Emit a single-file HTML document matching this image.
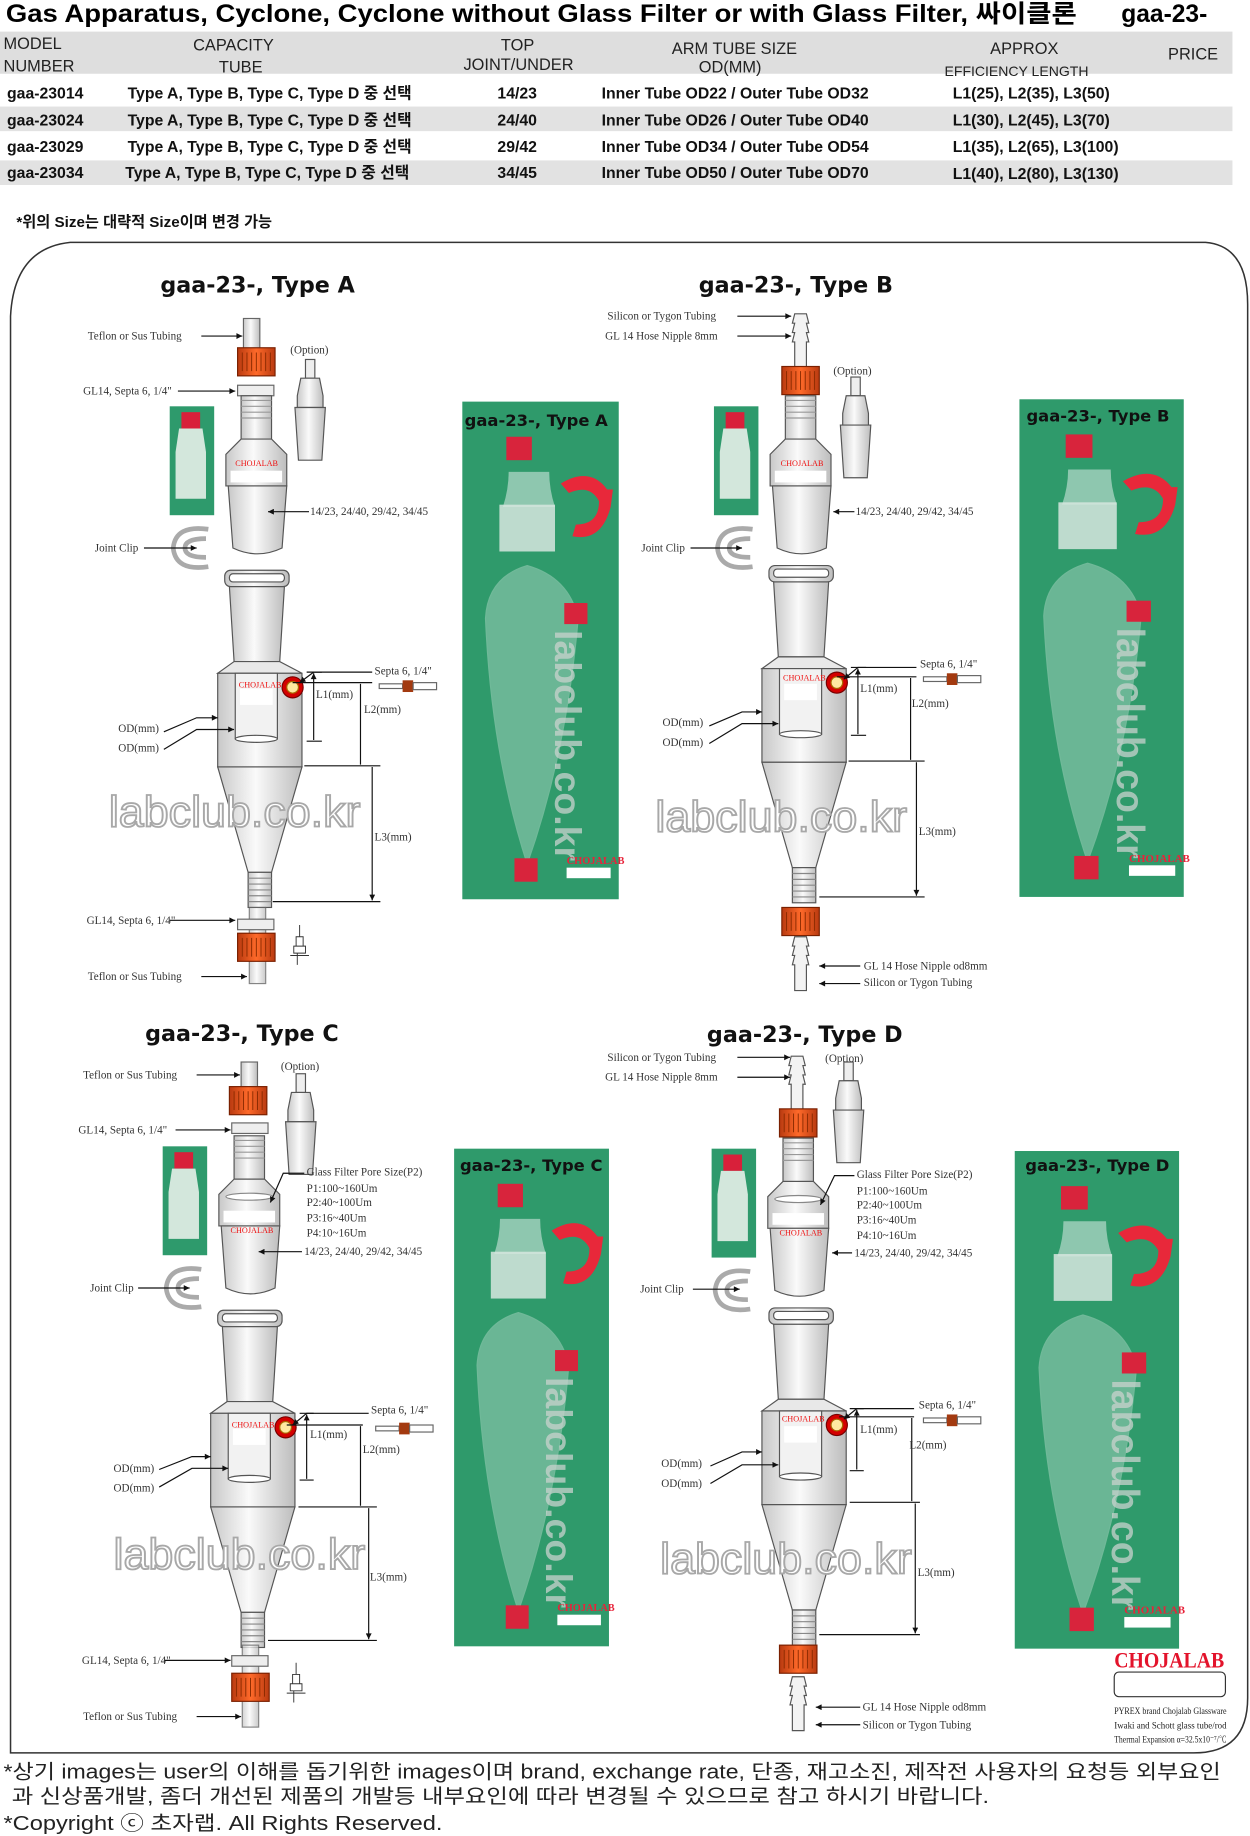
<!DOCTYPE html>
<html><head><meta charset="utf-8"><style>
html,body{margin:0;padding:0;background:#fff;}
svg{display:block;font-family:"Liberation Serif","Noto Serif CJK SC",serif;}
.s{font-family:"Liberation Sans","Noto Sans CJK KR",sans-serif;}
.lb{font-size:9.5px;fill:#333;}
.h{font-family:"DejaVu Sans","Noto Sans CJK KR",sans-serif;font-weight:bold;}
</style></head><body>
<svg width="1250" height="1836" viewBox="0 0 1068 1568" preserveAspectRatio="none" xmlns="http://www.w3.org/2000/svg">
<defs>
<marker id="ar" viewBox="0 0 10 10" refX="10" refY="5" markerWidth="7" markerHeight="5" orient="auto-start-reverse" markerUnits="userSpaceOnUse"><path d="M0,0L10,5L0,10z" fill="#111"/></marker>
<linearGradient id="gl" x1="0" x2="1" y1="0" y2="0"><stop offset="0" stop-color="#c8c8c8"/><stop offset=".45" stop-color="#fafafa"/><stop offset="1" stop-color="#bdbdbd"/></linearGradient>
<linearGradient id="or" x1="0" x2="1"><stop offset="0" stop-color="#b93a10"/><stop offset=".5" stop-color="#ff6a2a"/><stop offset="1" stop-color="#b93a10"/></linearGradient>
<g id="body" stroke="#555" stroke-width="1">
<rect x="192" y="487" width="55" height="14" rx="5" fill="url(#gl)"/>
<rect x="196" y="490" width="47" height="7" rx="3" fill="#fff"/>
<path d="M196,501 L243,501 L239,565 L200,565Z" fill="url(#gl)"/>
<path d="M200,565 L239,565 L258,575 L186,575Z" fill="#e8e8e8"/>
<rect x="186" y="575" width="72" height="80" fill="url(#gl)"/>
<rect x="201" y="575" width="36" height="56" fill="#f2f2f2"/>
<ellipse cx="219" cy="631" rx="18" ry="3" fill="#fff"/>
<path d="M186,655 L258,655 L232,745 L212,745Z" fill="url(#gl)"/>
<rect x="212" y="745" width="20" height="30" fill="url(#gl)"/>
<path d="M212,750h20M212,755h20M212,760h20M212,765h20M212,770h20" stroke="#888"/>
<circle cx="250" cy="587" r="9" fill="#d40000" stroke="#700"/>
<circle cx="250" cy="587" r="5" fill="#ffe9a0" stroke="#a60"/>
<rect x="205" y="588" width="28" height="14" fill="#fff" stroke="none"/>
</g>
<g id="ctop" stroke="#555" stroke-width="1">
<rect x="206" y="338" width="26" height="37" fill="url(#gl)"/>
<path d="M206,342h26M206,347h26M206,352h26M206,357h26" stroke="#999"/>
<path d="M206,375 L193,388 L193,415 L245,415 L245,388 L232,375Z" fill="url(#gl)"/>
<path d="M195,415 L245,415 L241,468 Q220,478 199,468Z" fill="url(#gl)"/>
<rect x="197" y="402" width="44" height="10" fill="#fff" stroke="none"/>
</g>
<g id="clip" fill="none" stroke="#aaa" stroke-width="4">
<path d="M178,452 Q150,448 148,468 Q150,488 178,484"/>
<path d="M176,460 Q158,460 158,468 Q158,476 176,476"/>
</g>
<g id="inset"><rect x="145" y="347" width="38" height="93" fill="#2e9a6c"/><rect x="155" y="352" width="16" height="14" fill="#d8203a"/><path d="M153,366 h20 l3,20 v40 h-26 v-40z" fill="#e6efe9" opacity=".9"/></g>
<g id="photo">
<rect x="0" y="0" width="135" height="425" fill="#2f9a6b"/>
<path d="M40,60 Q40,75 35,90 L80,90 Q75,75 75,60Z" fill="#cfe6dc" opacity=".6"/>
<rect x="38" y="30" width="22" height="20" fill="#d8243c"/>
<rect x="32" y="88" width="48" height="40" fill="#d7e6df" opacity=".85"/>
<path d="M20,185 Q22,150 56,140 Q92,150 100,185 Q90,300 56,395 Q25,300 20,185Z" fill="#d8ece3" opacity=".35" stroke="#e8f4ee" stroke-width="1"/>
<rect x="88" y="172" width="20" height="18" fill="#d8243c"/>
<rect x="45" y="390" width="20" height="20" fill="#d8243c"/>
<path d="M85,70 Q110,55 125,75 L130,75 L128,90 Q120,120 95,115 L98,105 Q118,105 118,85 Q110,70 92,78Z" fill="#e8283a"/>
<text transform="translate(80,195) rotate(90)" class="s" font-size="32" font-weight="bold" fill="#c9d3ce" opacity=".75">labclub.co.kr</text>
<text x="90" y="395" font-size="9" fill="#e8233a" font-weight="bold">CHOJALAB</text>
<rect x="90" y="398" width="38" height="9" fill="#fff"/>
</g>
<g id="septa"><rect x="-26" y="-2" width="20" height="4" fill="#fff" stroke="#666"/><rect x="-6" y="-5" width="9" height="10" fill="#a33a10"/><rect x="3" y="-3" width="20" height="6" fill="#fff" stroke="#666"/></g>
<g id="opt" stroke="#555"><rect x="261" y="307" width="8" height="16" fill="#eee"/><path d="M257,323h16l3,15v10h-22v-10z" fill="url(#gl)"/><path d="M252,348h26l-3,45h-20z" fill="url(#gl)"/></g>
<g id="nip" stroke="#555" fill="#f3f3f3"><path d="M-5,0h10l2,8h-2l2,8h-2l2,8h-2v22h-10v-22h-2l2,-8h-2l2,-8h-2z"/></g>
<g id="cap"><rect x="0" y="0" width="32" height="24" fill="url(#or)" stroke="#7a2000"/><path d="M4,4v16M8,4v16M12,4v16M16,4v16M20,4v16M24,4v16M28,4v16" stroke="#8a2a00" stroke-width=".8"/></g>
<g id="mini" stroke="#333" fill="none" stroke-width=".8"><path d="M0,0v10M-3,10h6v8h-6zM-5,18h10v6h-10zM-2,24v10M-8,26h16"/></g>
</defs>

<text x="5" y="19" class="s" font-size="21" font-weight="bold" textLength="915" lengthAdjust="spacingAndGlyphs">Gas Apparatus, Cyclone, Cyclone without Glass Filter or with Glass Filter, 싸이클론</text>
<text x="958" y="19" class="s" font-size="21" font-weight="bold">gaa-23-</text>
<rect x="0" y="27" width="1053" height="36" fill="#dedede"/>
<g class="s" font-size="14" fill="#222">
<text x="3" y="42">MODEL</text><text x="3" y="61">NUMBER</text>
<text x="165" y="43">CAPACITY</text><text x="187" y="62">TUBE</text>
<text x="428" y="43">TOP</text><text x="396" y="60">JOINT/UNDER</text>
<text x="574" y="46">ARM TUBE SIZE</text><text x="597" y="62">OD(MM)</text>
<text x="846" y="46">APPROX</text><text x="807" y="65" font-size="12">EFFICIENCY LENGTH</text>
<text x="998" y="51">PRICE</text>
</g>
<rect x="0" y="91" width="1053" height="21" fill="#e2e2e2"/>
<rect x="0" y="137" width="1053" height="21" fill="#e2e2e2"/>
<g class="s" font-size="13.5" font-weight="bold" fill="#111">
<text x="6" y="84">gaa-23014</text><text x="109" y="84">Type A, Type B, Type C, Type D 중 선택</text><text x="425" y="84">14/23</text><text x="514" y="84">Inner Tube OD22 / Outer Tube OD32</text><text x="814" y="84">L1(25), L2(35), L3(50)</text>
<text x="6" y="107">gaa-23024</text><text x="109" y="107">Type A, Type B, Type C, Type D 중 선택</text><text x="425" y="107">24/40</text><text x="514" y="107">Inner Tube OD26 / Outer Tube OD40</text><text x="814" y="107">L1(30), L2(45), L3(70)</text>
<text x="6" y="130">gaa-23029</text><text x="109" y="130">Type A, Type B, Type C, Type D 중 선택</text><text x="425" y="130">29/42</text><text x="514" y="130">Inner Tube OD34 / Outer Tube OD54</text><text x="814" y="130">L1(35), L2(65), L3(100)</text>
<text x="6" y="152">gaa-23034</text><text x="107" y="152">Type A, Type B, Type C, Type D 중 선택</text><text x="425" y="152">34/45</text><text x="514" y="152">Inner Tube OD50 / Outer Tube OD70</text><text x="814" y="153">L1(40), L2(80), L3(130)</text>
<text x="14" y="194" font-size="13">*위의 Size는 대략적 Size이며 변경 가능</text>
</g>
<path d="M60,207 H1030 Q1066,210 1066,260 V1450 Q1066,1497 1020,1497 H9 V270 Q12,212 60,207Z" fill="none" stroke="#333" stroke-width="1.3"/>

<g class="h" font-size="19" fill="#111">
<text x="137" y="250">gaa-23-, Type A</text>
<text x="597" y="250">gaa-23-, Type B</text>
<text x="124" y="889">gaa-23-, Type C</text>
<text x="604" y="890">gaa-23-, Type D</text>
</g>

<g>
<rect x="208" y="272" width="14" height="28" fill="url(#gl)" stroke="#666"/>
<use href="#cap" x="203" y="297"/>
<rect x="203" y="329" width="31" height="9" fill="#eee" stroke="#666"/>
<use href="#ctop"/><use href="#body"/><use href="#clip"/><use href="#inset"/><use href="#opt"/>
<rect x="213" y="775" width="14" height="65" fill="url(#gl)" stroke="#666" opacity=".8"/>
<rect x="203" y="785" width="31" height="9" fill="#eee" stroke="#666"/>
<use href="#cap" x="203" y="797"/>
<use href="#mini" x="256" y="790"/>
<text x="201" y="398" font-size="7" fill="#e11">CHOJALAB</text>
<text x="204" y="587" font-size="7" fill="#e11">CHOJALAB</text>
<use href="#septa" x="350" y="586"/>
</g>
<g>
<use href="#nip" x="684" y="268"/>
<use href="#cap" x="668" y="313"/>
<g transform="translate(465,0)"><use href="#ctop"/><use href="#clip"/><use href="#inset"/></g>
<g transform="translate(465,-4)"><use href="#body"/></g>
<use href="#opt" x="466" y="15"/>
<use href="#cap" x="668" y="775"/>
<use href="#nip" x="684" y="800"/>
<text x="667" y="398" font-size="7" fill="#e11">CHOJALAB</text>
<text x="669" y="581" font-size="7" fill="#e11">CHOJALAB</text>
<use href="#septa" x="815" y="580"/>
</g>
<g>
<rect x="206" y="907" width="14" height="22" fill="url(#gl)" stroke="#666"/>
<use href="#cap" x="196" y="928"/>
<rect x="198" y="959" width="31" height="9" fill="#eee" stroke="#666"/>
<g transform="translate(-6,632)"><use href="#ctop"/><use href="#body"/><use href="#clip"/><use href="#inset"/></g>
<use href="#opt" x="-8" y="610"/>
<ellipse cx="213" cy="1022" rx="20" ry="3" fill="#fff" stroke="#888"/>
<rect x="207" y="1405" width="14" height="70" fill="url(#gl)" stroke="#666" opacity=".8"/>
<rect x="198" y="1414" width="31" height="9" fill="#eee" stroke="#666"/>
<use href="#cap" x="198" y="1429"/>
<use href="#mini" x="253" y="1420"/>
<text x="197" y="1053" font-size="7" fill="#e11">CHOJALAB</text>
<text x="198" y="1219" font-size="7" fill="#e11">CHOJALAB</text>
<use href="#septa" x="347" y="1220"/>
</g>
<g>
<use href="#nip" x="681" y="902"/>
<use href="#cap" x="666" y="947"/>
<g transform="translate(463,634)"><use href="#ctop"/><use href="#clip"/><use href="#inset"/></g>
<g transform="translate(465,630)"><use href="#body"/></g>
<use href="#opt" x="460" y="600"/>
<ellipse cx="682" cy="1024" rx="20" ry="3" fill="#fff" stroke="#888"/>
<use href="#cap" x="666" y="1405"/>
<use href="#nip" x="682" y="1432"/>
<text x="666" y="1055" font-size="7" fill="#e11">CHOJALAB</text>
<text x="668" y="1214" font-size="7" fill="#e11">CHOJALAB</text>
<use href="#septa" x="815" y="1213"/>
</g>

<g class="s" font-size="37" fill="#fff" stroke="#a8a8a8" stroke-width="1.6">
<text x="93" y="706" textLength="215" lengthAdjust="spacingAndGlyphs">labclub.co.kr</text>
<text x="560" y="710" textLength="215" lengthAdjust="spacingAndGlyphs">labclub.co.kr</text>
<text x="97" y="1340" textLength="215" lengthAdjust="spacingAndGlyphs">labclub.co.kr</text>
<text x="564" y="1344" textLength="215" lengthAdjust="spacingAndGlyphs">labclub.co.kr</text>
</g>

<g transform="translate(395,343) scale(0.99,1)"><use href="#photo"/></g>
<g transform="translate(871,341) scale(1.04,1)"><use href="#photo"/></g>
<g transform="translate(388,981) scale(0.98,1)"><use href="#photo"/></g>
<g transform="translate(867,983) scale(1.04,1)"><use href="#photo"/></g>
<g class="h" font-size="14" fill="#111">
<text x="397" y="364">gaa-23-, Type A</text>
<text x="877" y="360">gaa-23-, Type B</text>
<text x="393" y="1000">gaa-23-, Type C</text>
<text x="876" y="1000">gaa-23-, Type D</text>
</g>

<g stroke="#111" stroke-width="1" fill="none">
<!-- A arrows -->
<g marker-end="url(#ar)">
<path d="M172,287H207"/><path d="M152,334H201"/><path d="M264,437H229"/><path d="M123,468H168"/><path d="M145,786H201"/><path d="M172,834H211"/>
<path d="M140,625L168,613H186"/><path d="M140,640L168,623H200"/><path d="M318,574H268L256,583"/>
</g>
<path d="M250,583H318M260,654H325M233,770H325M262,574H275M262,633H275"/>
<path d="M268,575V632M308,584V653M318,655V769" marker-start="url(#ar)" marker-end="url(#ar)"/>
<!-- B -->
<g marker-end="url(#ar)">
<path d="M630,270H676"/><path d="M630,287H676"/><path d="M730,437H712"/><path d="M590,468H634"/><path d="M735,825H700"/><path d="M735,840H700"/>
<path d="M606,620L634,608H651"/><path d="M606,635L634,618H665"/><path d="M783,570H733L721,580"/>
</g>
<path d="M715,578H783M725,650H790M700,766H790M727,570H740M727,628H740"/>
<path d="M733,571V627M778,579V649M783,651V765" marker-start="url(#ar)" marker-end="url(#ar)"/>
<!-- C -->
<g marker-end="url(#ar)">
<path d="M168,918H205"/><path d="M150,965H197"/><path d="M258,1069H221"/><path d="M260,1002H242L231,1027"/><path d="M118,1100H162"/><path d="M140,1418H197"/><path d="M168,1466H206"/>
<path d="M136,1255L164,1244H180"/><path d="M136,1270L164,1254H195"/><path d="M315,1207H262L250,1217"/>
</g>
<path d="M245,1217H310M255,1287H322M229,1401H322M256,1207H268M256,1264H268"/>
<path d="M262,1208V1263M308,1218V1286M315,1288V1400" marker-start="url(#ar)" marker-end="url(#ar)"/>
<!-- D -->
<g marker-end="url(#ar)">
<path d="M630,903H675"/><path d="M630,920H675"/><path d="M728,1070H711"/><path d="M730,1004H713L701,1029"/><path d="M592,1101H632"/><path d="M735,1458H697"/><path d="M735,1473H697"/>
<path d="M607,1252L634,1240H651"/><path d="M607,1267L634,1251H665"/><path d="M781,1203H732L721,1212"/>
</g>
<path d="M717,1210H781M726,1283H786M700,1396H786M726,1203H738M726,1256H738"/>
<path d="M732,1204V1255M779,1211V1282M782,1284V1395" marker-start="url(#ar)" marker-end="url(#ar)"/>
</g>
<g class="lb">
<text x="75" y="290">Teflon or Sus Tubing</text>
<text x="248" y="302">(Option)</text>
<text x="71" y="337">GL14, Septa 6, 1/4"</text>
<text x="265" y="440">14/23, 24/40, 29/42, 34/45</text>
<text x="81" y="471">Joint Clip</text>
<text x="320" y="576">Septa 6, 1/4"</text>
<text x="270" y="596">L1(mm)</text>
<text x="311" y="609">L2(mm)</text>
<text x="101" y="625">OD(mm)</text>
<text x="101" y="642">OD(mm)</text>
<text x="320" y="718">L3(mm)</text>
<text x="74" y="789">GL14, Septa 6, 1/4"</text>
<text x="75" y="837">Teflon or Sus Tubing</text>

<text x="519" y="273">Silicon or Tygon Tubing</text>
<text x="517" y="290">GL 14 Hose Nipple 8mm</text>
<text x="712" y="320">(Option)</text>
<text x="731" y="440">14/23, 24/40, 29/42, 34/45</text>
<text x="548" y="471">Joint Clip</text>
<text x="786" y="570">Septa 6, 1/4"</text>
<text x="735" y="591">L1(mm)</text>
<text x="779" y="604">L2(mm)</text>
<text x="566" y="620">OD(mm)</text>
<text x="566" y="637">OD(mm)</text>
<text x="785" y="713">L3(mm)</text>
<text x="738" y="828">GL 14 Hose Nipple od8mm</text>
<text x="738" y="842">Silicon or Tygon Tubing</text>

<text x="71" y="921">Teflon or Sus Tubing</text>
<text x="240" y="914">(Option)</text>
<text x="67" y="968">GL14, Septa 6, 1/4"</text>
<text x="262" y="1004">Glass Filter Pore Size(P2)</text>
<text x="262" y="1018">P1:100~160Um</text>
<text x="262" y="1030">P2:40~100Um</text>
<text x="262" y="1043">P3:16~40Um</text>
<text x="262" y="1056">P4:10~16Um</text>
<text x="260" y="1072">14/23, 24/40, 29/42, 34/45</text>
<text x="77" y="1103">Joint Clip</text>
<text x="317" y="1207">Septa 6, 1/4"</text>
<text x="265" y="1228">L1(mm)</text>
<text x="310" y="1241">L2(mm)</text>
<text x="97" y="1257">OD(mm)</text>
<text x="97" y="1274">OD(mm)</text>
<text x="316" y="1350">L3(mm)</text>
<text x="70" y="1421">GL14, Septa 6, 1/4"</text>
<text x="71" y="1469">Teflon or Sus Tubing</text>

<text x="519" y="906">Silicon or Tygon Tubing</text>
<text x="517" y="923">GL 14 Hose Nipple 8mm</text>
<text x="705" y="907">(Option)</text>
<text x="732" y="1006">Glass Filter Pore Size(P2)</text>
<text x="732" y="1020">P1:100~160Um</text>
<text x="732" y="1032">P2:40~100Um</text>
<text x="732" y="1045">P3:16~40Um</text>
<text x="732" y="1058">P4:10~16Um</text>
<text x="730" y="1073">14/23, 24/40, 29/42, 34/45</text>
<text x="547" y="1104">Joint Clip</text>
<text x="785" y="1203">Septa 6, 1/4"</text>
<text x="735" y="1224">L1(mm)</text>
<text x="777" y="1237">L2(mm)</text>
<text x="565" y="1253">OD(mm)</text>
<text x="565" y="1270">OD(mm)</text>
<text x="784" y="1346">L3(mm)</text>
<text x="737" y="1461">GL 14 Hose Nipple od8mm</text>
<text x="737" y="1476">Silicon or Tygon Tubing</text>
</g>

<text x="952" y="1424" font-size="19" font-weight="bold" fill="#e3132b" textLength="94" lengthAdjust="spacingAndGlyphs">CHOJALAB</text>
<rect x="952" y="1428" width="95" height="21" rx="4" fill="#fff" stroke="#333"/>
<g font-size="8" fill="#222">
<text x="952" y="1464" textLength="96" lengthAdjust="spacingAndGlyphs">PYREX brand Chojalab Glassware</text>
<text x="952" y="1476" textLength="96" lengthAdjust="spacingAndGlyphs">Iwaki and Schott glass tube/rod</text>
<text x="952" y="1488" textLength="96" lengthAdjust="spacingAndGlyphs">Thermal Expansion α=32.5x10⁻⁷/℃</text>
</g>

<g class="s" font-size="17" fill="#222">
<text x="3" y="1519" textLength="1040" lengthAdjust="spacingAndGlyphs">*상기 images는 user의 이해를 돕기위한 images이며 brand, exchange rate, 단종, 재고소진, 제작전 사용자의 요청등 외부요인</text>
<text x="10" y="1540" textLength="835" lengthAdjust="spacingAndGlyphs">과 신상품개발, 좀더 개선된 제품의 개발등 내부요인에 따라 변경될 수 있으므로 참고 하시기 바랍니다.</text>
<text x="3" y="1563" textLength="375" lengthAdjust="spacingAndGlyphs">*Copyright ⓒ 초자랩.     All Rights Reserved.</text>
</g>
</svg>
</body></html>
